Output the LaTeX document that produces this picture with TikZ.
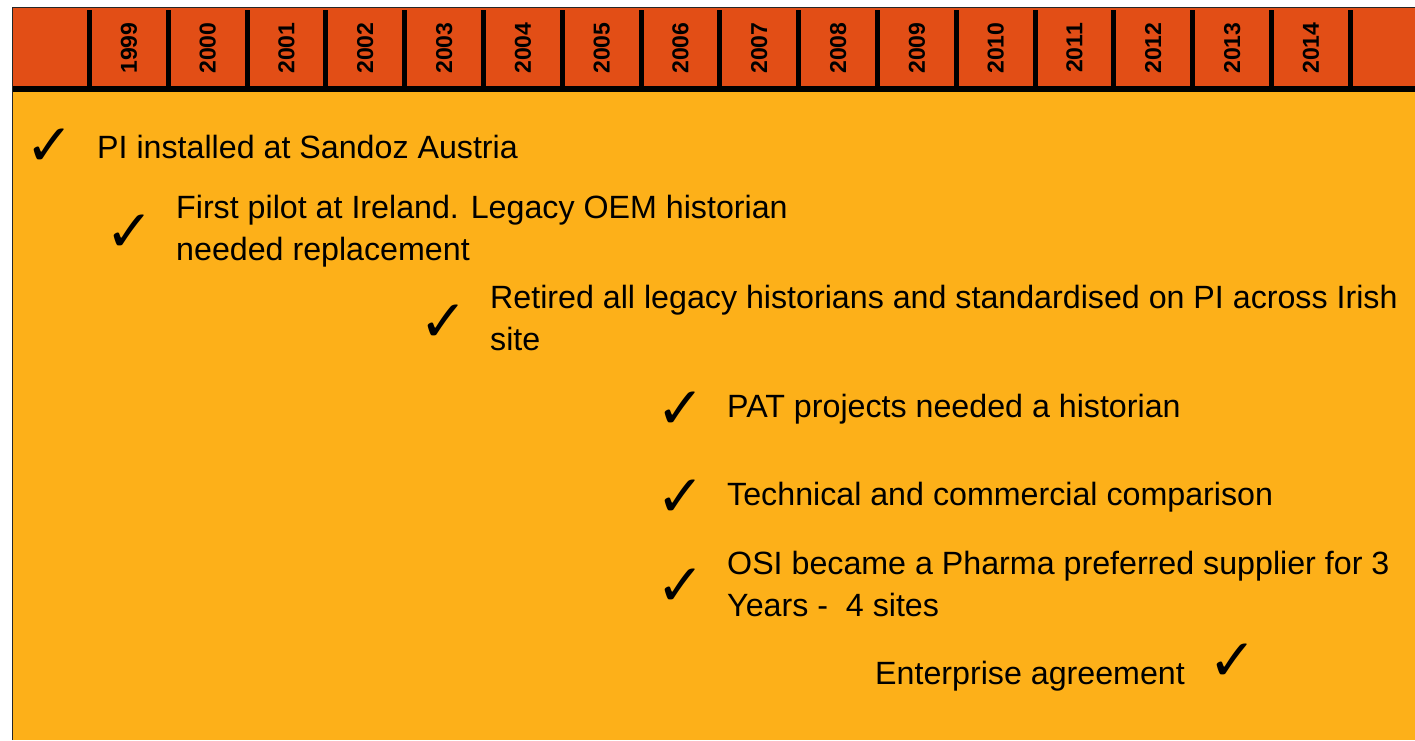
\documentclass[tikz,border=0pt]{standalone}
\usepackage{fontspec}
\setmainfont{Liberation Sans}
\newfontfamily\tickfont{DejaVu Sans}
\usetikzlibrary{positioning}
\definecolor{headorange}{HTML}{E24E16}
\definecolor{bodyyellow}{HTML}{FDB019}

\begin{document}
\begin{tikzpicture}[x=1pt,y=-1pt,node distance=78.8pt,on grid,
year/.style={fill=headorange,rotate=90,minimum width=76pt,minimum height=73.8pt,
inner sep=0pt,font=\fontsize{23}{23}\selectfont\bfseries},
event/.style={anchor=west,inner sep=0pt,align=left,font=\fontsize{32.2}{42.5}\selectfont},
tick/.style={inner sep=0pt,anchor=center,font=\tickfont\fontsize{58}{58}\selectfont}]
\useasboundingbox (0,0) rectangle (1415,740);
\fill[bodyyellow] (12,92) rectangle (1415,740);
\fill[black] (12,10) rectangle (1415,92);
\fill[headorange] (12,7) rectangle (1415,10);
\draw[black!85,line width=1.2pt] (12.6,740) -- (12.6,7.6) -- (1415,7.6);
% header cells
\node[year] (c0) at (50.1,48) {};
\node[year] (y1999) [right=of c0] {1999};
\node[year] (y2000) [right=of y1999] {2000};
\node[year] (y2001) [right=of y2000] {2001};
\node[year] (y2002) [right=of y2001] {2002};
\node[year] (y2003) [right=of y2002] {2003};
\node[year] (y2004) [right=of y2003] {2004};
\node[year] (y2005) [right=of y2004] {2005};
\node[year] (y2006) [right=of y2005] {2006};
\node[year] (y2007) [right=of y2006] {2007};
\node[year] (y2008) [right=of y2007] {2008};
\node[year] (y2009) [right=of y2008] {2009};
\node[year] (y2010) [right=of y2009] {2010};
\node[year] (y2011) [right=of y2010] {2011};
\node[year] (y2012) [right=of y2011] {2012};
\node[year] (y2013) [right=of y2012] {2013};
\node[year] (y2014) [right=of y2013] {2014};
\node[year] (c17) [right=of y2014] {};
% milestones
\node[event] (ev1) at (97,147) {PI installed at Sandoz Austria};
\node[tick] (chk1) [left=47pt of ev1.west,anchor=center] {✓};
\node[event] (ev2) at (176,231) {First pilot at Ireland. Legacy OEM historian\\needed replacement};
\node[tick] (chk2) [left=46pt of ev2.west,anchor=center,yshift=-2pt] {✓};
\node[event] (ev3) at (490,318) {Retired all legacy historians and standardised on PI across Irish\\site};
\node[tick] (chk3) [left=46pt of ev3.west,anchor=center,yshift=-5pt] {✓};
\node[event] (ev4) at (727,409) {PAT projects needed a historian};
\node[tick] (chk4) [left=46pt of ev4.west,anchor=center,yshift=-1pt] {✓};
\node[event] (ev5) at (727,497) {Technical and commercial comparison};
\node[tick] (chk5) [left=46pt of ev5.west,anchor=center,yshift=-1pt] {✓};
\node[event] (ev6) at (727,584) {OSI became a Pharma preferred supplier for 3\\Years -\ \ 4 sites};
\node[tick] (chk6) [left=46pt of ev6.west,anchor=center,yshift=-3pt] {✓};
\node[event] (ev7) at (875,676) {Enterprise agreement};
\node[tick] (chk7) [right=48pt of ev7.east,anchor=center,yshift=14pt] {✓};
\end{tikzpicture}
\end{document}
